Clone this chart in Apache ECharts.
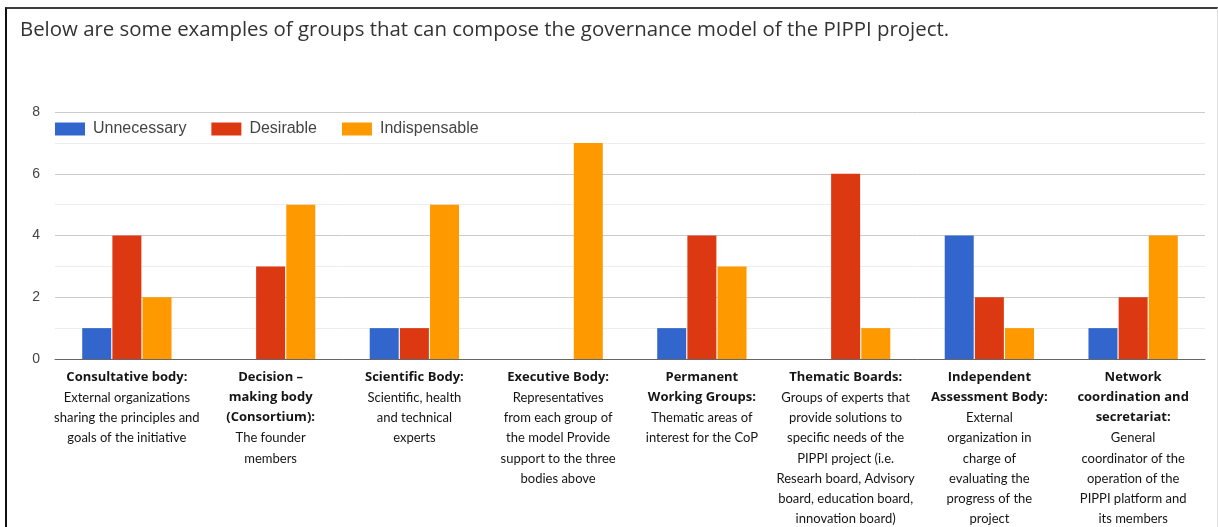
<!DOCTYPE html>
<html>
<head>
<meta charset="utf-8">
<script src="https://cdn.jsdelivr.net/npm/echarts@6/dist/echarts.min.js"></script>
<style>
  html, body { margin: 0; padding: 0; background: #fff; }
  #chart { position: absolute; left: 0; top: 0; width: 1218px; height: 527px; }
  #frame {
    position: absolute; left: 5px; top: 7px; width: 1210px; height: 530px;
    border-left: 2px solid #111; border-top: 2px solid #3a3a3a; border-right: 1px solid #ddd;
    pointer-events: none;
  }
</style>
</head>
<body>
<div id="chart"></div>
<div id="frame"></div>
<script>
// 标题和类别
const titleText = 'Below are some examples of groups that can compose the governance model of the PIPPI project.'
const categoryHeads = [
  'Consultative body:',
  'Decision –\nmaking body\n(Consortium):',
  'Scientific Body:',
  'Executive Body:',
  'Permanent\nWorking Groups:',
  'Thematic Boards:',
  'Independent\nAssessment Body:',
  'Network\ncoordination and\nsecretariat:'
]
const categoryBodies = [
  'External organizations\nsharing the principles and\ngoals of the initiative',
  'The founder\nmembers',
  'Scientific, health\nand technical\nexperts',
  'Representatives\nfrom each group of\nthe model Provide\nsupport to the three\nbodies above',
  'Thematic areas of\ninterest for the CoP',
  'Groups of experts that\nprovide solutions to\nspecific needs of the\nPIPPI project (i.e.\nResearh board, Advisory\nboard, education board,\ninnovation board)',
  'External\norganization in\ncharge of\nevaluating the\nprogress of the\nproject',
  'General\ncoordinator of the\noperation of the\nPIPPI platform and\nits members'
]
const seriesNames = ['Unnecessary', 'Desirable', 'Indispensable']
const unnecessary = [1, 0, 1, 0, 1, 0, 4, 1]
const desirable = [4, 3, 1, 0, 4, 6, 2, 2]
const indispensable = [2, 5, 5, 7, 3, 1, 1, 4]
const colorList = ['#3366cc', '#dc3912', '#ff9900']

const categories = categoryHeads.map((h, i) => h + '|' + i)

let chart = echarts.init(document.getElementById('chart'))

let seriesList = [unnecessary, desirable, indispensable].map((data, index) => {
  return {
    name: seriesNames[index],
    type: 'bar',
    data: data,
    barWidth: 29,
    barGap: '4%',
    itemStyle: { color: colorList[index] }
  }
})

let option = {
  color: colorList,
  animation: false,
  title: {
    text: titleText,
    left: 15,
    top: 15,
    textStyle: {
      fontFamily: 'Open Sans',
      fontSize: 20.4,
      fontWeight: 'normal',
      color: '#333'
    }
  },
  legend: {
    left: 50,
    top: 116,
    itemWidth: 30,
    itemHeight: 13,
    itemGap: 25,
    icon: 'rect',
    textStyle: {
      fontFamily: 'Liberation Sans',
      fontSize: 16,
      color: '#444',
      padding: [0, 0, 0, 3]
    }
  },
  grid: {
    left: 55,
    right: 13,
    top: 112,
    bottom: 168,
    outerBoundsMode: 'none'
  },
  xAxis: {
    type: 'category',
    data: categories,
    axisTick: { show: false },
    axisLine: { lineStyle: { color: '#666', width: 1 } },
    axisLabel: {
      interval: 0,
      margin: 8,
      fontFamily: 'Lato',
      fontSize: 13,
      lineHeight: 20.3,
      color: '#151515',
      verticalAlign: 'top',
      formatter: (value) => {
        let i = parseInt(value.split('|').pop())
        let head = categoryHeads[i].split('\n').map(s => '{b|' + s + '}').join('\n')
        return head + '\n' + categoryBodies[i]
      },
      rich: {
        b: {
          fontFamily: 'Open Sans',
          fontSize: 13,
          fontWeight: 'bold',
          lineHeight: 20.3,
          color: '#151515'
        }
      }
    }
  },
  yAxis: {
    type: 'value',
    min: 0,
    max: 8,
    interval: 2,
    axisLabel: {
      margin: 15,
      fontFamily: 'Liberation Sans',
      fontSize: 14,
      color: '#444'
    },
    splitLine: { lineStyle: { color: '#ccc', width: 1 } },
    minorTick: { show: false, splitNumber: 2 },
    minorSplitLine: { show: true, lineStyle: { color: '#ececec', width: 1 } }
  },
  series: seriesList
}

chart.setOption(option)
</script>
</body>
</html>
